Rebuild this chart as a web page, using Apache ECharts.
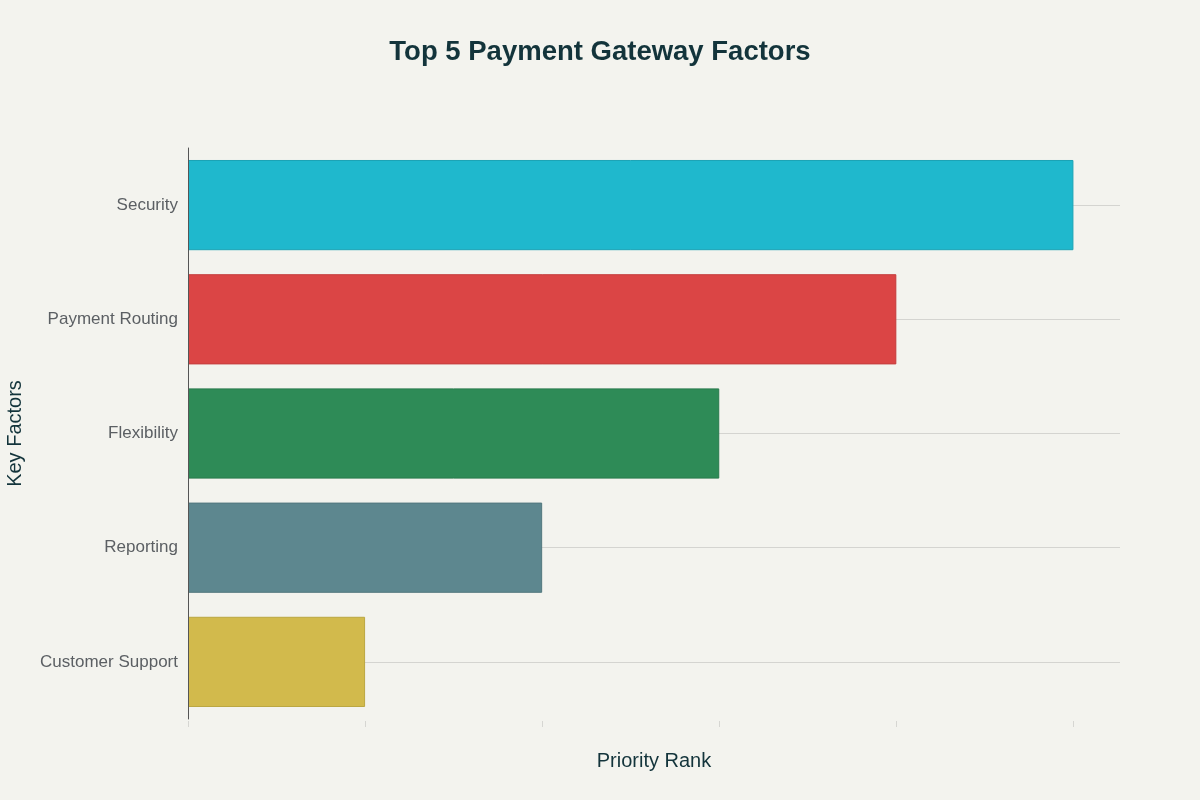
<!DOCTYPE html>
<html>
<head>
<meta charset="utf-8">
<script src="https://cdn.jsdelivr.net/npm/echarts@6/dist/echarts.min.js"></script>
<style>
html,body{margin:0;padding:0;background:#F3F3EE;}
#chart{width:1200px;height:800px;}
</style>
</head>
<body>
<div id="chart"></div>
<script>
var categories = ["Security", "Payment Routing", "Flexibility", "Reporting", "Customer Support"];
var values = [5, 4, 3, 2, 1];
var colors = ["#1FB8CD", "#DB4545", "#2E8B57", "#5D878F", "#D2BA4C"];
var borders = ["#1aa3b5", "#c43d3d", "#287a4c", "#52777e", "#bba742"];

var chart = echarts.init(document.getElementById('chart'));
var font = "Liberation Sans, Arial, sans-serif";
var L = 188, R = 80, T = 148, B = 81;
var band = (800 - T - B) / categories.length;
var plotW = 1200 - L - R;
var xMax = 5.263;
var tickW = plotW * 5 / xMax;

chart.setOption({
  backgroundColor: "#F3F3EE",
  title: {
    text: "Top 5 Payment Gateway Factors",
    left: "center",
    top: 33,
    textStyle: {fontFamily: font, fontSize: 27.5, fontWeight: "bold", color: "#13343B"}
  },
  grid: [
    {left: L, right: R, top: T, bottom: B, containLabel: false, outerBoundsMode: "none"},
    {left: L, width: tickW, top: T, bottom: B - 2, containLabel: false, outerBoundsMode: "none"},
    {left: L, right: R, top: T + band / 2, bottom: B + band / 2, containLabel: false, outerBoundsMode: "none"}
  ],
  xAxis: [{
    gridIndex: 0,
    type: "value",
    min: 0,
    max: xMax,
    name: "Priority Rank",
    nameLocation: "middle",
    nameGap: 32,
    nameTextStyle: {fontFamily: font, fontSize: 20, color: "#13343B"},
    axisLine: {show: false},
    axisTick: {show: false},
    axisLabel: {show: false},
    splitLine: {show: false}
  }, {
    gridIndex: 1,
    type: "value",
    min: 0,
    max: 5,
    interval: 1,
    axisLine: {show: false},
    axisTick: {show: true, length: 6, lineStyle: {color: "#d6d6d2"}},
    axisLabel: {show: false},
    splitLine: {show: false}
  }, {
    gridIndex: 2,
    type: "value",
    min: 0,
    max: 1,
    show: false
  }],
  yAxis: [{
    gridIndex: 0,
    type: "category",
    data: categories,
    inverse: true,
    name: "Key Factors",
    nameLocation: "middle",
    nameGap: 163,
    nameRotate: 90,
    nameTextStyle: {fontFamily: font, fontSize: 20, color: "#13343B"},
    axisLine: {show: true, lineStyle: {color: "#555", width: 1}},
    axisTick: {show: false},
    axisLabel: {fontFamily: font, fontSize: 17, color: "#5b5f63", margin: 10},
    splitLine: {show: false},
    boundaryGap: true,
    z: 3
  }, {
    gridIndex: 1,
    type: "value",
    show: false
  }, {
    gridIndex: 2,
    type: "value",
    min: 0,
    max: 4,
    interval: 1,
    axisLine: {show: false},
    axisTick: {show: false},
    axisLabel: {show: false},
    splitLine: {show: true, showMinLine: true, showMaxLine: true, lineStyle: {color: "#d4d4d0", width: 1}}
  }],
  series: [{
    type: "bar",
    xAxisIndex: 0,
    yAxisIndex: 0,
    data: values.map(function(v, i){
      return {value: v, itemStyle: {color: colors[i], borderColor: borders[i], borderWidth: 1}};
    }),
    barCategoryGap: "21%",
    silent: true
  }]
});
</script>
</body>
</html>
